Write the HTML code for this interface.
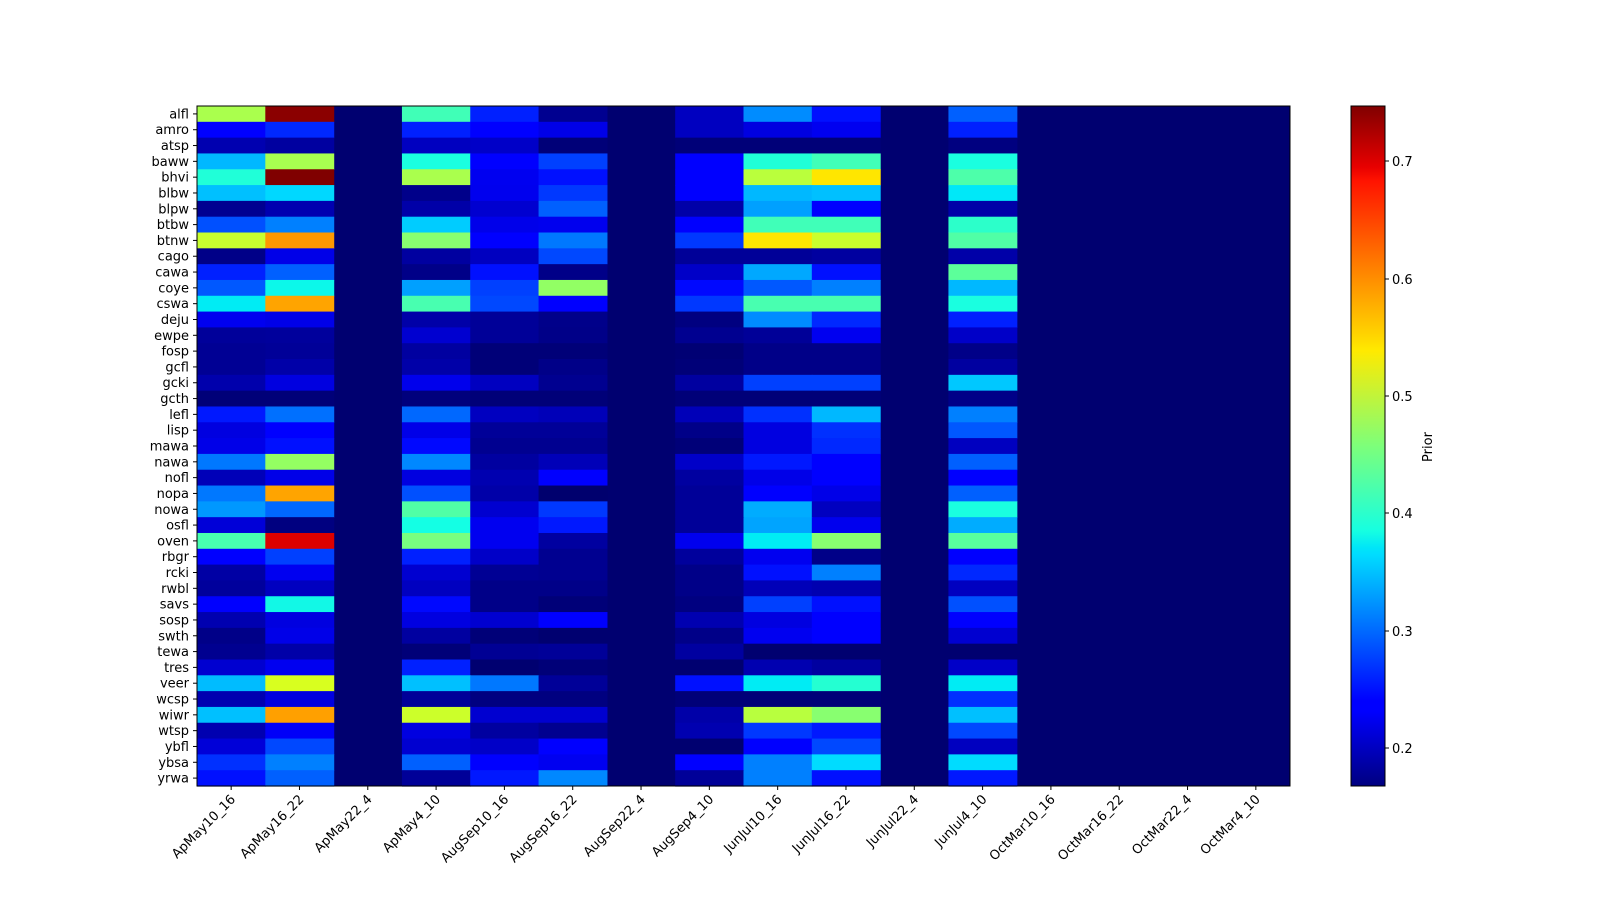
<!DOCTYPE html>
<html><head><meta charset="utf-8"><style>
html,body{margin:0;padding:0;background:#fff;overflow:hidden;width:1600px;height:900px;}
svg{display:block;}
svg text{font-family:"DejaVu Sans","Liberation Sans",sans-serif;font-size:13px;fill:#000;}
</style></head><body>
<svg id="s" width="1600" height="900" xmlns="http://www.w3.org/2000/svg">
<defs><linearGradient id="jet" x1="0" y1="1" x2="0" y2="0">
<stop offset="0" stop-color="#000080"/><stop offset="0.11" stop-color="#0000ff"/>
<stop offset="0.125" stop-color="#0000ff"/><stop offset="0.34" stop-color="#00dcff"/>
<stop offset="0.35" stop-color="#00e5f8"/><stop offset="0.375" stop-color="#16ffe1"/>
<stop offset="0.5" stop-color="#7dff7a"/><stop offset="0.64" stop-color="#ffea00"/><stop offset="0.66" stop-color="#ffd700"/>
<stop offset="0.89" stop-color="#ff1300"/><stop offset="0.91" stop-color="#e80000"/><stop offset="1" stop-color="#800000"/>
</linearGradient></defs>
<rect x="197" y="106" width="1093" height="680" fill="#000070"/>
<g id="cells"></g>
<rect x="197" y="106" width="1093" height="680" fill="none" stroke="#000" stroke-width="1"/>
<g id="yl" text-anchor="end"></g>
<g id="xl"></g>
<rect x="1351" y="106" width="34" height="680" fill="url(#jet)" stroke="#000" stroke-width="1"/>
<g text-anchor="start">
<line x1="1385" y1="748" x2="1389" y2="748" stroke="#000"/><text x="1392" y="753">0.2</text>
<line x1="1385" y1="631" x2="1389" y2="631" stroke="#000"/><text x="1392" y="636">0.3</text>
<line x1="1385" y1="513" x2="1389" y2="513" stroke="#000"/><text x="1392" y="518">0.4</text>
<line x1="1385" y1="396" x2="1389" y2="396" stroke="#000"/><text x="1392" y="401">0.5</text>
<line x1="1385" y1="279" x2="1389" y2="279" stroke="#000"/><text x="1392" y="284">0.6</text>
<line x1="1385" y1="161" x2="1389" y2="161" stroke="#000"/><text x="1392" y="166">0.7</text>
</g>
<text x="1432" y="447" text-anchor="middle" transform="rotate(-90 1432 447)">Prior</text>
</svg>
<script>
var rows="alfl amro atsp baww bhvi blbw blpw btbw btnw cago cawa coye cswa deju ewpe fosp gcfl gcki gcth lefl lisp mawa nawa nofl nopa nowa osfl oven rbgr rcki rwbl savs sosp swth tewa tres veer wcsp wiwr wtsp ybfl ybsa yrwa".split(" ");
var cols="ApMay10_16 ApMay16_22 ApMay22_4 ApMay4_10 AugSep10_16 AugSep16_22 AugSep22_4 AugSep4_10 JunJul10_16 JunJul16_22 JunJul22_4 JunJul4_10 OctMar10_16 OctMar16_22 OctMar22_4 OctMar4_10".split(" ");
var data=`aaff4d 8b0000 40ffb7 0020ff 000090 0000c0 008cff 0010ff 0060ff
0000ff 0028ff 0020ff 0000ff 0000e8 0000c0 0000e0 0000f0 0020ff
0000b0 0000a0 0000c0 0000c8 000078 000078 000078 000078 000080
00b8ff a8ff50 1affe0 0000ff 0040ff 0000ff 20ffd8 40ffb8 1affe0
20ffd8 800000 aaff4d 0000f0 0010ff 0000ff baff3c ffe600 4dffaa
00c0ff 00d8ff 00008a 0000ee 0038ff 0000ff 00b8ff 00c0ff 00e8f8
000090 0000b0 0000a8 0000d0 0060ff 0000a8 00a0ff 0000ff 0000a8
0050ff 0080ff 00ccff 0000ea 0000ee 0000ff 40ffb8 40ffb8 2cffca
c8ff2f ff9800 88ff70 0000ff 0078ff 0038ff ffe600 caff2d 50ffa6
000088 0000e8 0000a0 0000c0 0048ff 000098 000098 0000a0 0000a8
0020ff 0060ff 000088 0010ff 000088 0000c8 00a8ff 0010ff 5cff9a
0058ff 0cf8ea 00a0ff 0040ff 92ff64 0008ff 0058ff 0080ff 00b8ff
00ecf4 ffa400 48ffb0 0048ff 0000ff 0038ff 48ffb0 48ffb0 1affe0
0000f0 0000e8 0000a8 000098 00008a 000080 008cff 0028ff 0020ff
00009a 00009c 0000d0 000098 000088 000090 000098 0000f0 0000c8
000094 000098 0000a0 000078 000078 000074 000088 000088 000088
000094 0000a8 0000a8 000078 000088 000078 000088 000088 0000a0
0000ac 0000e0 0000ec 0000c0 000090 0000a0 0040ff 0040ff 00c8ff
000078 000078 00007c 000078 000078 000078 000078 000078 000088
0018ff 0070ff 0068ff 0000c0 0000b8 0000b8 0030ff 00b8ff 0080ff
0000e0 0000ff 0000e8 000098 000098 000088 0000e0 0030ff 0058ff
0000e8 0010ff 0008ff 000090 000090 000078 0000e0 0028ff 0000c0
0078ff 94ff62 0088ff 0000a0 0000b8 0000c8 0018ff 0000ff 0060ff
0000b8 0000e8 0000e0 0000b0 0000ff 0000a0 0000e8 0000ff 0000ff
0078ff ffa400 0050ff 0000a8 00006e 000098 0000ff 0000e8 0060ff
0098ff 0068ff 50ffa6 0000d0 0038ff 000098 00acff 0000c0 1affe0
0000d8 000080 14ffe4 0000f0 0018ff 000098 00a4ff 0000ee 00acff
48ffb0 dc0000 78ff80 0000f0 0000a0 0000ee 00ecf4 88ff70 58ff9e
0000ff 0040ff 0020ff 0000c8 000090 00009c 0000f0 000088 0000ff
0000a4 0000f0 0000d0 000094 000090 000088 0010ff 0080ff 0028ff
00009c 0000c0 0000c0 000088 000088 000088 0000b8 0000b0 0000c0
0000ff 12f8e6 0008ff 000088 000078 000080 0040ff 0010ff 0050ff
0000b0 0000e0 0000e0 0000d0 0000ff 0000b0 0000e0 0000ff 0000ff
000088 0000e8 0000a0 000078 000070 000088 0000f0 0000ff 0000d0
000090 0000a8 000078 000094 000098 0000a0 000070 000070 000070
0000d0 0000f0 0020ff 000070 000078 000070 0000b0 0000a0 0000c8
00bcff d8ff1f 00c0ff 0078ff 000098 0010ff 00ecf4 24ffd2 00ecf4
0000b0 0000e0 000098 000080 000080 000078 000078 000078 0030ff
00c0ff ffa000 ccff2a 0000d0 0000d0 0000a8 b8ff3e 88ff70 00c0ff
0000b0 0000f8 0000e0 0000a0 000090 0000b0 0038ff 0018ff 0048ff
0000d8 0048ff 0000d0 0000c8 0000ff 000070 0000ff 0048ff 0000c0
0030ff 0080ff 0060ff 0000ff 0000f0 0000ff 0080ff 00dcff 00dcff
0010ff 0060ff 000098 0018ff 0088ff 000098 0080ff 0010ff 0018ff`.trim().split("\n");
var colIdx=[0,1,3,4,5,7,8,9,11];
var x0=197,y0=106,cw=1093/16,rh=680/43,ns="http://www.w3.org/2000/svg";
var g=document.getElementById("cells"),yl=document.getElementById("yl"),xl=document.getElementById("xl");
data.forEach(function(line,r){line.trim().split(/\s+/).forEach(function(c,i){
 var e=document.createElementNS(ns,"rect");var ci=colIdx[i];
 e.setAttribute("x",(x0+ci*cw).toFixed(2));e.setAttribute("y",(y0+r*rh).toFixed(2));
 e.setAttribute("width",(cw+0.6).toFixed(2));e.setAttribute("height",(rh+0.6).toFixed(2));
 e.setAttribute("fill","#"+c);g.appendChild(e);});});
rows.forEach(function(n,r){var y=y0+(r+0.5)*rh;
 var l=document.createElementNS(ns,"line");l.setAttribute("x1",193);l.setAttribute("x2",197);l.setAttribute("y1",y);l.setAttribute("y2",y);l.setAttribute("stroke","#000");yl.appendChild(l);
 var t=document.createElementNS(ns,"text");t.setAttribute("x",189);t.setAttribute("y",y+4.5);t.textContent=n;yl.appendChild(t);});
cols.forEach(function(n,i){var x=x0+(i+0.5)*cw;
 var l=document.createElementNS(ns,"line");l.setAttribute("x1",x);l.setAttribute("x2",x);l.setAttribute("y1",786);l.setAttribute("y2",790);l.setAttribute("stroke","#000");xl.appendChild(l);
 var t=document.createElementNS(ns,"text");t.setAttribute("x",x+5);t.setAttribute("y",800);t.setAttribute("text-anchor","end");
 t.setAttribute("transform","rotate(-45 "+(x+5)+" 800)");t.textContent=n;xl.appendChild(t);});
</script>
</body></html>
